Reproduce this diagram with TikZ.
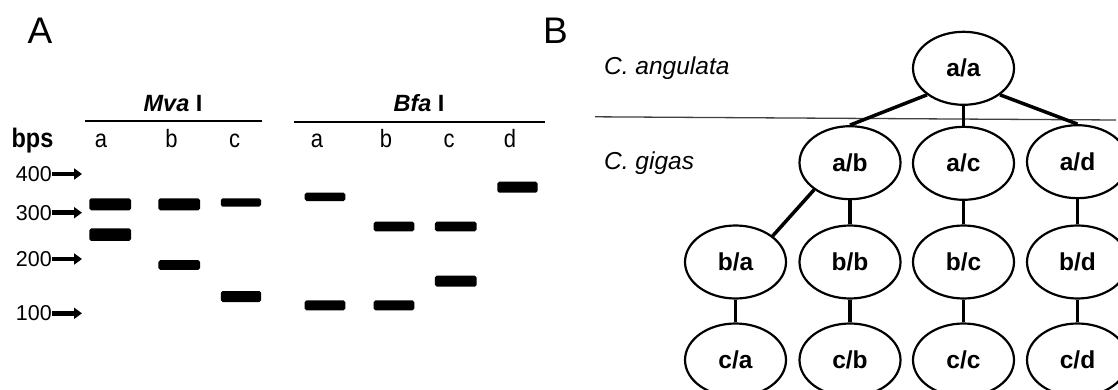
\documentclass[tikz,border=0pt]{standalone}
\usepackage{fontspec}
\setmainfont{Liberation Sans}
\usetikzlibrary{arrows.meta,shapes.geometric}
\newcommand{\tallt}[1]{\scalebox{1}[1.14]{#1}}
\tikzset{
  fs/.style={font=\fontsize{#1}{#1}\selectfont},
  txt/.style={inner sep=0pt, anchor=base},
  band/.style={fill=black, rounded corners=1.8pt, inner sep=0pt, draw=none},
  ladder/.style={line width=4.5pt, -{Triangle[length=8pt 0 0, width=11pt 0 0]}},
  geno/.style={ellipse, draw=black, line width=2.2pt, minimum width=101pt, minimum height=73pt, inner sep=0pt, font=\fontsize{24.5}{24.5}\selectfont\bfseries},
  link/.style={line width=3.5pt},
  enz/.style={line width=2pt}
}
\begin{document}
\begin{tikzpicture}[x=1pt,y=-1pt]
\clip (0,0) rectangle (1118,390);
\fill[white] (0,0) rectangle (1118,390);
% Panel labels
\node[txt, anchor=base west, fs=37] (lA) at (27.5,43.5) {A};
\node[txt, anchor=base west, fs=37] (lB) at (543,43.5) {B};
% Enzymes
\node[txt, fs=23.5] (mva) at (173,111.5) {\textbf{\textit{Mva}} \textbf{I}};
\node[txt, fs=23.5] (bfa) at (419,111.5) {\textbf{\textit{Bfa}} \textbf{I}};
\coordinate (mvaL) at (85,121.5); \coordinate (mvaR) at (262,121.5);
\coordinate (bfaL) at (294,122); \coordinate (bfaR) at (545,122);
\draw[enz] (mvaL) -- (mvaR);
\draw[enz] (bfaL) -- (bfaR);
% Lane labels
\node[txt, fs=23.5] (bps) at (32.5,148) {\tallt{\textbf{bps}}};
\node[txt, fs=22] (m1) at (101,148) {\tallt{a}};
\node[txt, fs=22] (m2) at (171.5,148) {\tallt{b}};
\node[txt, fs=22] (m3) at (234.5,148) {\tallt{c}};
\node[txt, fs=22] (b1) at (317,148) {\tallt{a}};
\node[txt, fs=22] (b2) at (386,148) {\tallt{b}};
\node[txt, fs=22] (b3) at (449,148) {\tallt{c}};
\node[txt, fs=22] (b4) at (510,148) {\tallt{d}};
% Ladder
\node[inner sep=0pt, anchor=east, fs=21.5] (n400) at (52,174) {400};
\node[inner sep=0pt, anchor=east, fs=21.5] (n300) at (52,212.7) {300};
\node[inner sep=0pt, anchor=east, fs=21.5] (n200) at (52,259) {200};
\node[inner sep=0pt, anchor=east, fs=21.5] (n100) at (52,313.3) {100};
\coordinate (t400) at (82,174);
\coordinate (t300) at (82,212.7);
\coordinate (t200) at (82,259);
\coordinate (t100) at (82,313.3);
\draw[ladder] (n400.east) -- (t400);
\draw[ladder] (n300.east) -- (t300);
\draw[ladder] (n200.east) -- (t200);
\draw[ladder] (n100.east) -- (t100);
% Bands
\node[band, minimum width=41.7pt, minimum height=12pt] (ma1) at (110.2,204.3) {};
\node[band, minimum width=41.7pt, minimum height=12.5pt] (ma2) at (110.2,234.7) {};
\node[band, minimum width=41.7pt, minimum height=12pt] (mb1) at (179.2,204.3) {};
\node[band, minimum width=41.7pt, minimum height=9.7pt] (mb2) at (179.2,265) {};
\node[band, minimum width=40.3pt, minimum height=8.4pt] (mc1) at (240.9,202.5) {};
\node[band, minimum width=40.3pt, minimum height=11pt] (mc2) at (240.9,296.5) {};
\node[band, minimum width=40.6pt, minimum height=8.4pt] (ba1) at (325,196.8) {};
\node[band, minimum width=40.6pt, minimum height=10pt] (ba2) at (325,305.3) {};
\node[band, minimum width=40.6pt, minimum height=9.7pt] (bb1) at (394,226.5) {};
\node[band, minimum width=40.6pt, minimum height=10pt] (bb2) at (394,305.3) {};
\node[band, minimum width=41.7pt, minimum height=9.7pt] (bc1) at (455.8,226.5) {};
\node[band, minimum width=41.7pt, minimum height=11pt] (bc2) at (455.8,281.2) {};
\node[band, minimum width=40.4pt, minimum height=11pt] (bd1) at (517.5,187.2) {};
% Panel B species
\node[txt, anchor=base west, fs=24.5] (ang) at (604,75) {\textit{C. angulata}};
\node[txt, anchor=base west, fs=24.5] (gig) at (604,170) {\textit{C. gigas}};
\coordinate (sepL) at (595,116.8);
\coordinate (sepR) at (1116,120);
\draw[line width=1.3pt, black!75] (sepL) -- (sepR);
% Genotype tree
\node[geno] (aa) at (963.5,68.3) {a/a};
\node[geno] (ab) at (850,162.7) {a/b};
\node[geno] (ac) at (963.5,163.3) {a/c};
\node[geno] (ad) at (1077.5,161.7) {a/d};
\node[geno] (ba) at (735.5,262) {b/a};
\node[geno] (bb) at (850,262) {b/b};
\node[geno] (bc) at (963.5,262) {b/c};
\node[geno] (bd) at (1077.5,262) {b/d};
\node[geno] (ca) at (735.5,360) {c/a};
\node[geno] (cb) at (850,360) {c/b};
\node[geno] (cc) at (963.5,360) {c/c};
\node[geno] (cd) at (1077.5,360) {c/d};
\draw[link] (aa.216) -- (ab.north);
\draw[link] (aa.south) -- (ac.north);
\draw[link] (aa.-36) -- (ad.north);
\draw[link] (ab.217) -- (ba.35);
\draw[link] (ab.south) -- (bb.north);
\draw[link] (ac.south) -- (bc.north);
\draw[link] (ad.south) -- (bd.north);
\draw[link] (ba.south) -- (ca.north);
\draw[link] (bb.south) -- (cb.north);
\draw[link] (bc.south) -- (cc.north);
\draw[link] (bd.south) -- (cd.north);
\end{tikzpicture}
\end{document}
